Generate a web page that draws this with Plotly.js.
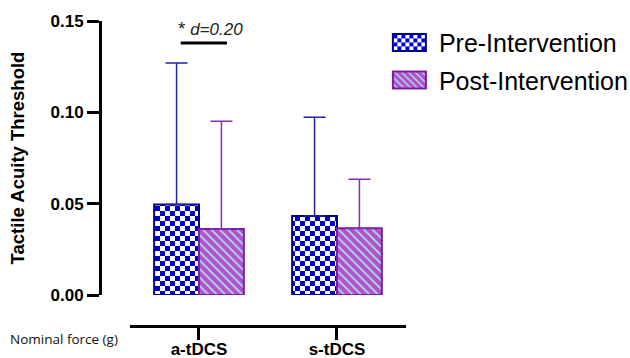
<!DOCTYPE html>
<html>
<head>
<meta charset="utf-8">
<script src="https://cdn.plot.ly/plotly-3.0.1.min.js"></script>
<style>html,body{margin:0;padding:0;background:#fff;}#chart{width:630px;height:358px;}</style>
</head>
<body>
<div id="chart"></div>
<script>
// ---- data ----
const groups = ['a-tDCS', 's-tDCS'];
const preValues = [0.0495, 0.0432];
const preErrUp = [0.0775, 0.0541];
const postValues = [0.0361, 0.0366];
const postErrUp = [0.0590, 0.0268];
const seriesNames = ['Pre-Intervention', 'Post-Intervention'];
const yTicks = [0, 0.05, 0.10, 0.15];
const sigText = '<span style="font-size:19px">*</span> <i>d=0.20</i>';
const sigY = 0.138;

const FONT = 'Arial, "Liberation Sans", sans-serif';
const BARGAP = 0.35;
const PRE_CHECK = '#0000cc';

const traces = [
  {
    type: 'bar', name: seriesNames[0], x: groups, y: preValues, legendgroup: 'a', uid: 'prebars',
    marker: {color: '#ffffff', line: {color: '#00008b', width: 2},
      pattern: {shape: '+', fgcolor: PRE_CHECK, bgcolor: '#ffffff', size: 10, solidity: 0.5}},
    error_y: {type: 'data', symmetric: false, array: preErrUp, arrayminus: [0, 0],
      color: '#22229a', thickness: 1.5, width: 11}
  },
  {
    type: 'bar', name: seriesNames[1], x: groups, y: postValues, legendgroup: 'b', uid: 'postbars',
    marker: {color: '#b450cc', line: {color: '#7e1aa6', width: 2},
      pattern: {shape: '\\', fgcolor: '#a6e6e8', bgcolor: '#b450cc', size: 6, solidity: 0.3, fillmode: 'replace'}},
    error_y: {type: 'data', symmetric: false, array: postErrUp, arrayminus: [0, 0],
      color: '#8a2cb8', thickness: 1.5, width: 11}
  }
];

// bar centres in category units, derived from the bar gap
const half = (1 - BARGAP) / 4;
const layout = {
  width: 630, height: 358,
  margin: {l: 100, r: 224, t: 21, b: 32, autoexpand: false},
  paper_bgcolor: '#fff', plot_bgcolor: 'rgba(0,0,0,0)',
  barmode: 'group', bargap: BARGAP, bargroupgap: 0,
  font: {family: FONT, color: '#000'},
  showlegend: true,
  legend: {
    xref: 'container', yref: 'container', x: 0.603, y: 0.945, xanchor: 'left', yanchor: 'top',
    font: {family: FONT, size: 25, color: '#000'}, itemwidth: 49, tracegroupgap: 2,
    bgcolor: 'rgba(0,0,0,0)'
  },
  xaxis: {
    type: 'category', range: [-0.5, 1.5], domain: [0.098, 1], anchor: 'free', position: 0,
    showline: true, linecolor: '#000', linewidth: 3, ticks: 'outside', ticklen: 12, tickwidth: 3,
    tickcolor: '#000', showgrid: false, zeroline: false, ticklabelstandoff: -5,
    tickfont: {family: FONT, size: 17, weight: 'bold', color: '#000'}
  },
  yaxis: {
    range: [0, 0.15], domain: [0.1016, 1], anchor: 'free', position: 0,
    tickvals: yTicks, tickformat: '.2f',
    showline: true, linecolor: '#000', linewidth: 3, ticks: 'outside', ticklen: 12, tickwidth: 3,
    tickcolor: '#000', showgrid: false, zeroline: false,
    tickfont: {family: FONT, size: 17, weight: 'bold', color: '#000'},
    title: {text: 'Tactile Acuity Threshold', standoff: 20,
      font: {family: FONT, size: 18.5, weight: 'bold', color: '#000'}}
  },
  annotations: [
    {xref: 'paper', yref: 'paper', x: (8 - 100) / 306, y: (326 - 339) / 305, xanchor: 'left', yanchor: 'middle',
      text: 'Nominal force (g)', showarrow: false,
      font: {family: '"Open Sans", sans-serif', size: 13.5, color: '#111'}},
    {xref: 'x', yref: 'y', x: 0 - half - 0.005, y: 0.1458, xanchor: 'left', yanchor: 'middle',
      text: sigText, showarrow: false, font: {family: FONT, size: 17, color: '#222'}}
  ],
  shapes: [
    {type: 'line', xref: 'x', yref: 'y', x0: 0 - half + 0.03, x1: 0 + half + 0.04, y0: sigY, y1: sigY,
      line: {color: '#000', width: 3}}
  ]
};

function checkerize() {
  const root = document.getElementById('chart');
  root.querySelectorAll('pattern').forEach(p => {
    const id = p.getAttribute('id') || '';
    const html = p.innerHTML || '';
    if (id.indexOf('prebars') >= 0 || /0,\s*0,\s*204/.test(html) || html.indexOf('#0000cc') >= 0) {
      p.setAttribute('width', '10');
      p.setAttribute('height', '10');
      p.innerHTML = '<rect width="10" height="10" fill="#ffffff"></rect>' +
        '<rect x="0" y="0" width="5" height="5" fill="' + PRE_CHECK + '"></rect>' +
        '<rect x="5" y="5" width="5" height="5" fill="' + PRE_CHECK + '"></rect>';
    }
  });
  root.querySelectorAll('.legendpoints path').forEach(pa => {
    pa.setAttribute('d', 'M16.5,8.5H-16.5V-8.5H16.5Z');
  });
}

const gd = document.getElementById('chart');
const pr = Plotly.newPlot(gd, traces, layout, {displayModeBar: false, staticPlot: true});
try { checkerize(); } catch (e) {}
if (pr && pr.then) pr.then(checkerize);
setTimeout(checkerize, 50);
setTimeout(checkerize, 300);
</script>
</body>
</html>
